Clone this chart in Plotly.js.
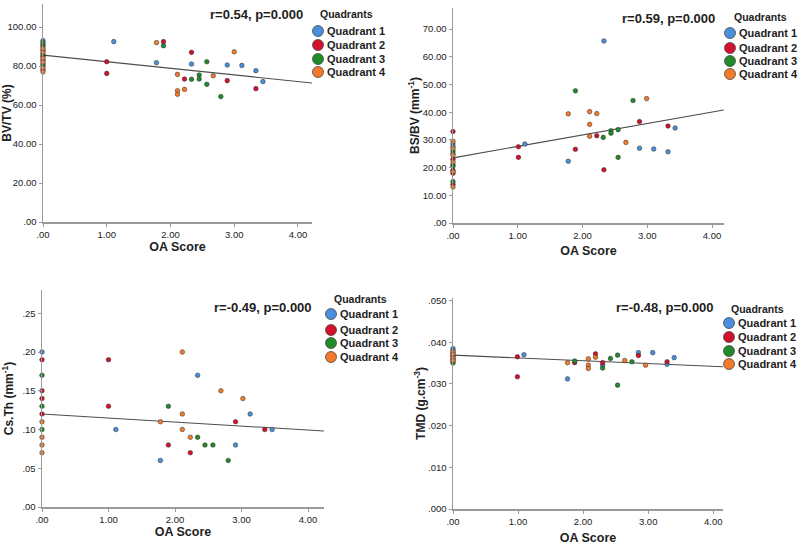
<!DOCTYPE html>
<html>
<head>
<meta charset="utf-8">
<script src="https://cdn.plot.ly/plotly-3.0.1.min.js"></script>
<style>html,body{margin:0;padding:0;background:#fff;}#chart{width:800px;height:545px;}</style>
</head>
<body>
<div id="chart"></div>
<script>
// ---------- data ----------
const quadrantNames = ['Quadrant 1', 'Quadrant 2', 'Quadrant 3', 'Quadrant 4'];
const quadrantColors = ['#4a8fdc', '#d3112c', '#238a2a', '#f3792b'];

const xTickVals = [0, 1, 2, 3, 4];
const xTickText = ['.00', '1.00', '2.00', '3.00', '4.00'];

// Panel 1: BV/TV (%)
const oa_bvtv   = [0,0,0,0,0,0,0,0,0,0,0,0,0,0,0,0,0,
  1.11,1.0,1.0,1.78,1.89,1.89,1.78,2.33,2.33,2.57,2.11,2.22,2.33,2.45,2.45,2.67,2.11,2.11,2.22,2.57,2.79,2.89,2.89,3.12,3.0,3.34,3.34,3.45];
const bvtv      = [93,92,91,90,89,88,87,86,85,84,83,82,81,80,79,78,77,
  92.5,82.2,76.2,92.0,92.5,90.4,81.7,87.0,81.0,82.2,75.7,73.3,73.2,75.4,73.3,75.0,67.3,65.5,68.0,70.6,64.3,72.5,80.5,80.3,87.3,77.6,68.4,72.0];
const quad_bvtv = [1,3,2,3,4,2,4,3,2,4,2,4,3,2,4,2,4,
  1,2,2,4,2,3,1,2,1,3,4,2,3,3,3,4,4,4,4,3,3,2,1,1,4,1,2,1];
const fitX_bvtv = [0, 4.22];
const fitY_bvtv = [85.6, 71.3];
const yTick_bvtv = [0, 20, 40, 60, 80, 100];
const yText_bvtv = ['.00', '20.00', '40.00', '60.00', '80.00', '100.00'];

// Panel 2: BS/BV (mm^-1)
const oa_bsbv   = [0,0,0,0,0,0,0,0,0,0,0,0,0,0,0,0,0,0,
  2.33,1.89,1.78,2.11,2.22,2.11,2.78,2.99,2.88,3.32,3.43,2.44,2.44,2.55,2.22,2.11,2.32,2.67,1.01,1.11,1.01,1.89,1.78,2.55,2.33,2.88,3.10,3.32];
const bsbv      = [33,29.5,28.5,27.5,27,26,25,24.5,23,22,21,20.5,19,18.5,18,15,14,13,
  65.7,47.7,39.4,40.2,39.5,35.6,44.2,44.9,36.6,35.0,34.3,33.3,32.4,33.7,31.5,31.3,30.9,29.1,27.5,28.5,23.7,26.6,22.3,23.7,19.2,27.0,26.7,25.7];
const quad_bsbv = [2,4,1,1,4,3,3,4,2,4,1,3,2,4,2,3,2,4,
  1,3,4,4,4,4,3,4,2,2,1,3,3,3,2,4,3,4,2,1,2,2,1,3,2,1,1,1];
const fitX_bsbv = [0, 4.18];
const fitY_bsbv = [23.5, 40.8];
const yTick_bsbv = [0, 10, 20, 30, 40, 50, 60, 70];
const yText_bsbv = ['.00', '10.00', '20.00', '30.00', '40.00', '50.00', '60.00', '70.00'];

// Panel 3: Cs.Th (mm^-1)
const oa_csth   = [0,0,0,0,0,0,0,0,0,0,0,0,
  1.0,1.0,2.11,2.34,2.69,3.02,1.90,2.11,3.13,1.78,2.91,1.11,2.11,3.35,3.46,2.23,2.34,1.90,2.45,2.57,2.91,2.23,1.78,2.80];
const csth      = [0.20,0.19,0.17,0.15,0.14,0.13,0.12,0.11,0.10,0.09,0.08,0.07,
  0.19,0.13,0.20,0.17,0.15,0.14,0.13,0.12,0.12,0.11,0.11,0.10,0.10,0.10,0.10,0.09,0.09,0.08,0.08,0.08,0.08,0.07,0.06,0.06];
const quad_csth = [1,2,3,2,2,3,2,4,3,4,4,4,
  2,2,4,1,4,4,3,4,1,4,2,1,4,2,1,4,3,2,3,3,1,2,1,3];
const fitX_csth = [0, 4.24];
const fitY_csth = [0.120, 0.098];
const yTick_csth = [0, 0.05, 0.10, 0.15, 0.20, 0.25];
const yText_csth = ['.00', '.05', '.10', '.15', '.20', '.25'];

// Panel 4: TMD (g.cm^-3)
const oa_tmd    = [0,0,0,0,0,0,0,0,0,0,0,0,
  0.99,1.09,0.99,1.76,1.76,1.87,1.87,2.08,2.08,2.08,2.19,2.19,2.30,2.30,2.30,2.42,2.53,2.53,2.64,2.75,2.85,2.85,2.96,3.07,3.29,3.29,3.40];
const tmd       = [0.0385,0.0380,0.0377,0.0374,0.0371,0.0368,0.0365,0.0362,0.0359,0.0356,0.0353,0.0350,
  0.0365,0.0370,0.0317,0.0351,0.0312,0.0355,0.0351,0.0360,0.0345,0.0337,0.0372,0.0364,0.0351,0.0345,0.0338,0.0361,0.0369,0.0297,0.0356,0.0353,0.0375,0.0368,0.0345,0.0375,0.0353,0.0347,0.0363];
const quad_tmd  = [1,1,4,2,4,2,3,4,2,4,2,3,
  2,1,2,4,1,3,2,4,4,4,2,4,2,1,3,3,3,3,4,3,1,2,4,1,2,1,1];
const fitX_tmd = [0, 4.15];
const fitY_tmd = [0.0369, 0.0341];
const yTick_tmd = [0, 0.01, 0.02, 0.03, 0.04, 0.05];
const yText_tmd = ['.000', '.010', '.020', '.030', '.040', '.050'];

const statTexts = ['r=0.54, p=0.000', 'r=0.59, p=0.000', 'r=-0.49, p=0.000', 'r=-0.48, p=0.000'];
const yTitles = ['BV/TV (%)', 'BS/BV (mm<sup>-1</sup>)', 'Cs.Th (mm<sup>-1</sup>)', 'TMD (g.cm<sup>-3</sup>)'];
const xTitle = 'OA Score';

// ---------- layout helpers (pixel geometry) ----------
const W = 800, H = 545;
const px = v => v / W;
const py = v => 1 - v / H;

const panels = [
  {oa: oa_bvtv, y: bvtv, q: quad_bvtv, fx: fitX_bvtv, fy: fitY_bvtv, yt: yTick_bvtv, ytt: yText_bvtv,
   xd: [43, 312], yd: [4, 222], xr: [0, 4.22], yr: [0, 111.8], xso: 0, yso: 6,
   stat: [256, 14], leg: {title: [346, 14], mx: 318, tx: 325, my: [31, 45, 59, 72]}},
  {oa: oa_bsbv, y: bsbv, q: quad_bsbv, fx: fitX_bsbv, fy: fitY_bsbv, yt: yTick_bsbv, ytt: yText_bsbv,
   xd: [453, 724], yd: [8, 223], xr: [0, 4.185], yr: [0, 77.6], xso: 6, yso: 0,
   stat: [668, 18], leg: {title: [760, 17], mx: 730, tx: 737, my: [33, 48, 61, 74]}},
  {oa: oa_csth, y: csth, q: quad_csth, fx: fitX_csth, fy: fitY_csth, yt: yTick_csth, ytt: yText_csth,
   xd: [42, 324], yd: [290, 507], xr: [0, 4.24], yr: [0, 0.28], xso: 0, yso: 8,
   stat: [263, 307], leg: {title: [360, 299], mx: 331, tx: 338, my: [314, 330, 343, 357]}},
  {oa: oa_tmd, y: tmd, q: quad_tmd, fx: fitX_tmd, fy: fitY_tmd, yt: yTick_tmd, ytt: yText_tmd,
   xd: [453, 723], yd: [298, 509], xr: [0, 4.15], yr: [0, 0.0506], xso: 10, yso: 0,
   stat: [665, 307], leg: {title: [757, 309], mx: 729, tx: 736, my: [323, 337, 351, 364]}}
];

const FONT = 'Arial, "Liberation Sans", sans-serif';
const traces = [];
const layout = {
  width: W, height: H,
  margin: {l: 0, r: 0, t: 0, b: 0},
  paper_bgcolor: '#fff', plot_bgcolor: '#fff',
  showlegend: false,
  font: {family: FONT, color: '#222'},
  annotations: [], shapes: []
};

panels.forEach((p, i) => {
  const n = i === 0 ? '' : String(i + 1);
  const xa = 'x' + n, ya = 'y' + n;
  // fit line
  traces.push({x: p.fx, y: p.fy, xaxis: xa, yaxis: ya, mode: 'lines', type: 'scatter',
    line: {color: '#4d4d4d', width: 1.1}, hoverinfo: 'skip'});
  // points per quadrant
  for (let k = 1; k <= 4; k++) {
    const xs = [], ys = [];
    p.q.forEach((qq, j) => { if (qq === k) { xs.push(p.oa[j]); ys.push(p.y[j]); } });
    traces.push({x: xs, y: ys, xaxis: xa, yaxis: ya, mode: 'markers', type: 'scatter',
      name: quadrantNames[k - 1], cliponaxis: false,
      marker: {color: quadrantColors[k - 1], size: 4.6, line: {color: '#2a2a2a', width: 0.5}}});
  }
  const axCommon = {showgrid: false, zeroline: false, showline: true, linecolor: '#9a9a9a', linewidth: 1.5,
    ticks: 'outside', ticklen: 3, tickcolor: '#9a9a9a', tickfont: {family: FONT, size: 9.5, color: '#222'}};
  layout['xaxis' + n] = Object.assign({}, axCommon, {
    domain: [px(p.xd[0]), px(p.xd[1])], range: p.xr, anchor: ya,
    tickmode: 'array', tickvals: xTickVals, ticktext: xTickText,
    title: {text: xTitle, font: {family: FONT, size: 12.5, weight: 'bold', color: '#222'}, standoff: p.xso}
  });
  layout['yaxis' + n] = Object.assign({}, axCommon, {
    domain: [py(p.yd[1]), py(p.yd[0])], range: p.yr, anchor: xa,
    tickmode: 'array', tickvals: p.yt, ticktext: p.ytt,
    title: {text: yTitles[i], font: {family: FONT, size: 12, weight: 'bold', color: '#222'}, standoff: p.yso}
  });
  // stat text
  layout.annotations.push({xref: 'paper', yref: 'paper', x: px(p.stat[0]), y: py(p.stat[1]),
    xanchor: 'center', yanchor: 'middle', showarrow: false, text: statTexts[i],
    font: {family: FONT, size: 13, weight: 'bold', color: '#222'}});
  // legend
  layout.annotations.push({xref: 'paper', yref: 'paper', x: px(p.leg.title[0]), y: py(p.leg.title[1]),
    xanchor: 'center', yanchor: 'middle', showarrow: false, text: 'Quadrants',
    font: {family: FONT, size: 10.5, weight: 'bold', color: '#222'}});
  quadrantNames.forEach((nm, k) => {
    layout.annotations.push({xref: 'paper', yref: 'paper', x: px(p.leg.tx), y: py(p.leg.my[k]),
      xanchor: 'left', yanchor: 'middle', showarrow: false, text: nm,
      font: {family: FONT, size: 11, weight: 'bold', color: '#222'}});
    layout.shapes.push({type: 'circle', xref: 'paper', yref: 'paper', xsizemode: 'pixel', ysizemode: 'pixel',
      xanchor: px(p.leg.mx), yanchor: py(p.leg.my[k]), x0: -5.5, x1: 5.5, y0: -5.5, y1: 5.5,
      fillcolor: quadrantColors[k], line: {color: '#3a3a3a', width: 0.7}});
  });
});

Plotly.newPlot('chart', traces, layout, {displayModeBar: false, staticPlot: true});
</script>
</body>
</html>
